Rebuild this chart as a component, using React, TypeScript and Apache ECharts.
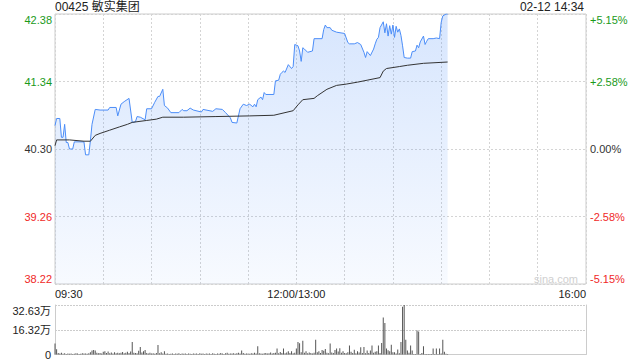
import React, { useEffect, useRef } from 'react';
import * as echarts from 'echarts';

const stockTitle = '00425 敏实集团';
const stampText = '02-12 14:34';
const watermark = 'sina.com';
const priceBase = 38.22;
const priceTicks = ['38.22', '39.26', '40.30', '41.34', '42.38'];
const pctTicks = ['-5.15%', '-2.58%', '0.00%', '+2.58%', '+5.15%'];
const timeTickMinutes = [0, 150, 330];
const timeTickLabels = ['09:30', '12:00/13:00', '16:00'];
const volTicks = ['0', '16.32万', '32.63万'];

// minutes after 09:30 (trading minutes, lunch removed) and last price
const priceMinutes = [
  0, 1, 3, 4, 5, 6, 7, 8, 9, 11, 12, 18, 19, 21, 22, 23, 25, 28, 33, 34,
  38, 39, 41, 43, 46, 48, 50, 51, 53, 56, 57, 60, 62, 64, 65, 67, 68, 70, 72, 77,
  79, 80, 82, 84, 86, 91, 92, 98, 100, 104, 106, 109, 110, 113, 115, 117, 119, 121, 123, 124,
  125, 126, 128, 129, 130, 131, 136, 137, 139, 140, 141, 142, 143, 145, 147, 148, 149, 151, 152, 153,
  154, 155, 157, 160, 161, 166, 167, 168, 169, 171, 172, 175, 180, 182, 183, 186, 188, 190, 192, 193,
  194, 196, 198, 199, 200, 201, 202, 204, 205, 206, 207, 208, 209, 210, 211, 212, 213, 214, 215, 216,
  217, 219, 221, 222, 224, 225, 226, 227, 229, 230, 231, 232, 235, 237, 239, 240, 241, 243, 244,
];
const prices = [
  40.66, 40.77, 40.77, 40.48, 40.48, 40.68, 40.40, 40.40, 40.30, 40.30, 40.41, 40.41, 40.21, 40.21, 40.43, 40.68, 40.91, 40.90, 40.90, 40.94,
  40.94, 40.81, 40.99, 41.03, 41.08, 40.71, 40.72, 40.80, 40.79, 40.75, 40.92, 40.92, 41.02, 41.11, 41.11, 41.22, 40.97, 40.93, 40.86, 40.86,
  40.91, 40.89, 40.89, 40.93, 40.90, 40.87, 40.91, 40.88, 40.92, 40.91, 40.86, 40.78, 40.71, 40.70, 40.92, 40.99, 40.97, 40.99, 40.95, 40.99,
  40.95, 41.06, 41.10, 41.06, 41.17, 41.14, 41.14, 41.35, 41.36, 41.45, 41.48, 41.50, 41.48, 41.60, 41.54, 41.57, 41.91, 41.89, 41.81, 41.65,
  41.86, 41.84, 41.79, 41.81, 42.00, 42.00, 42.14, 42.21, 42.17, 42.17, 42.13, 42.10, 42.08, 41.94, 41.92, 41.92, 41.94, 41.91, 41.79, 41.71,
  41.80, 41.74, 41.84, 41.92, 41.99, 42.02, 42.17, 42.26, 42.09, 42.23, 42.04, 42.20, 42.07, 42.21, 42.02, 42.19, 42.10, 42.15, 42.05, 41.89,
  41.71, 41.70, 41.70, 41.80, 41.81, 41.90, 41.86, 41.95, 42.04, 41.91, 41.96, 42.00, 42.00, 42.01, 42.00, 42.25, 42.35, 42.38, 42.38,
];

const avgMinutes = [0, 1, 9, 18, 22, 25, 28, 34, 40, 45, 48, 57, 63, 67, 80, 100, 121, 136, 148, 151, 154, 161, 163, 169, 175, 181, 188, 194, 202, 204, 206, 214, 219, 229, 244];
const avgPrices = [40.35, 40.44, 40.44, 40.42, 40.42, 40.51, 40.54, 40.59, 40.64, 40.68, 40.71, 40.74, 40.76, 40.79, 40.79, 40.80, 40.81, 40.82, 40.89, 40.98, 41.06, 41.08, 41.12, 41.22, 41.28, 41.30, 41.33, 41.36, 41.40, 41.50, 41.54, 41.57, 41.59, 41.62, 41.64];

// volume per minute from 09:30, in 万股
const volumes = [
  7.2, 3.4, 1.0, 0.6, 1.2, 0.5, 0.8, 0.4, 0.6, 0.5,
  0.7, 0.4, 0.5, 0.9, 0.6, 0.4, 0.5, 0.8, 0.6, 0.7,
  0.5, 0.9, 1.5, 2.6, 2.9, 2.7, 1.2, 0.8, 1.0, 0.6,
  1.8, 2.2, 1.0, 2.0, 0.9, 1.4, 0.7, 1.5, 0.8, 1.2,
  0.9, 1.1, 1.6, 0.8, 1.2, 1.8, 1.0, 2.0, 8.3, 1.2,
  1.0, 0.8, 2.5, 5.0, 1.4, 2.2, 3.0, 1.0, 0.7, 1.1,
  0.6, 0.9, 0.5, 1.0, 6.3, 0.8, 1.5, 0.6, 2.2, 0.5,
  0.6, 0.4, 0.5, 0.7, 0.4, 0.6, 0.5, 0.8, 0.4, 0.6,
  0.5, 0.7, 0.4, 0.6, 0.5, 0.4, 0.7, 0.5, 0.6, 0.4,
  0.8, 0.5, 0.6, 0.4, 0.7, 0.5, 0.6, 0.4, 0.9, 0.5,
  0.4, 0.7, 0.5, 1.0, 0.6, 0.4, 0.8, 1.2, 0.5, 0.7,
  0.6, 0.9, 0.5, 0.8, 1.2, 0.6, 2.7, 1.0, 0.5, 0.7,
  0.6, 0.5, 0.8, 0.6, 1.1, 0.7, 5.4, 0.9, 0.6, 0.5,
  0.8, 1.0, 0.6, 0.9, 1.4, 0.7, 1.0, 1.2, 4.0, 0.8,
  1.6, 1.0, 4.0, 0.9, 1.3, 2.2, 1.0, 2.2, 0.8, 1.2,
  4.0, 8.3, 7.4, 1.5, 9.0, 1.2, 2.2, 0.8, 1.4, 1.0,
  0.7, 1.2, 9.7, 1.5, 2.2, 1.0, 3.0, 2.5, 3.6, 1.2,
  0.9, 7.2, 1.4, 1.0, 3.0, 4.0, 2.0, 4.2, 1.2, 2.2,
  1.0, 0.8, 1.5, 6.0, 1.8, 1.0, 3.2, 0.8, 2.2, 1.4,
  4.8, 1.0, 5.0, 0.8, 2.6, 1.0, 2.6, 5.9, 1.2, 1.8,
  2.2, 5.9, 1.0, 7.6, 24.4, 20.7, 4.0, 2.8, 2.2, 6.5,
  1.5, 1.5, 0.6, 3.3, 0.8, 8.3, 31.5, 32.63, 9.8, 2.6,
  1.1, 5.9, 2.6, 0.4, 0.4, 15.9, 15.2, 0.4, 1.0, 5.5,
  0.4, 0.4, 0.4, 0.4, 0.4, 3.9, 0.4, 3.9, 0.4, 3.9,
  0.6, 9.8, 1.8, 0.5, 0.3,
];

const FONT = '"Liberation Sans", Arial, "Noto Sans CJK SC", sans-serif';
const UP = '#1a9a1a';
const DOWN = '#f02828';
const FLAT = '#333333';

function tickColor(_v: number, i: number) {
  return i < 2 ? DOWN : i === 2 ? FLAT : UP;
}

export default function App() {
  const ref = useRef<HTMLDivElement>(null);
  useEffect(() => {
    document.body.style.margin = '0';
    if (!ref.current) return;
    const chart = echarts.init(ref.current, null, { renderer: 'svg' });
    const toY = (p: number) => (p - priceBase) * 100;
    const priceData = priceMinutes.map((m, i) => [m, toY(prices[i])]);
    const avgData = avgMinutes.map((m, i) => [m, toY(avgPrices[i])]);
    const volData = volumes.map((v, i) => [i, v * 10000]);
    const dotted = { color: '#d4d4d4', type: [2, 2] as any, width: 1 };

    chart.setOption({
      animation: false,
      textStyle: { fontFamily: FONT },
      title: [
        { text: stockTitle, left: 55, top: 1, padding: 0, textStyle: { fontSize: 12, fontWeight: 'normal', color: '#222', fontFamily: FONT } },
        { text: stampText, right: 56, top: 1, padding: 0, textStyle: { fontSize: 12, fontWeight: 'normal', color: '#222', fontFamily: FONT } },
      ],
      grid: [
        { left: 55, right: 54, top: 14, height: 270, show: true, borderColor: '#cccccc', borderWidth: 1, backgroundColor: 'transparent' },
        { left: 55, right: 54, top: 305, height: 51 },
      ],
      xAxis: [
        {
          type: 'value', gridIndex: 0, min: 0, max: 330, interval: 30,
          axisLine: { show: false }, axisTick: { show: false },
          splitLine: { show: true, lineStyle: dotted },
          axisLabel: {
            margin: 4, fontSize: 11, color: '#222', fontFamily: FONT,
            alignMinLabel: 'left', alignMaxLabel: 'right',
            formatter: (v: number) => {
              const k = timeTickMinutes.indexOf(v);
              return k >= 0 ? timeTickLabels[k] : '';
            },
          },
        },
        {
          type: 'value', gridIndex: 1, min: 0, max: 330, interval: 30,
          axisLine: { show: true, lineStyle: { color: '#cccccc' } }, axisTick: { show: false },
          splitLine: { show: false }, axisLabel: { show: false },
        },
      ],
      yAxis: [
        {
          type: 'value', gridIndex: 0, min: 0, max: 416, interval: 104,
          axisLine: { show: false }, axisTick: { show: false },
          splitLine: { show: true, lineStyle: dotted },
          axisLabel: {
            margin: 3, fontSize: 11, fontFamily: FONT, color: tickColor,
            verticalAlignMinLabel: 'bottom', verticalAlignMaxLabel: 'top',
            formatter: (_v: number, i: number) => priceTicks[i],
          },
        },
        {
          type: 'value', gridIndex: 0, position: 'right', min: 0, max: 416, interval: 104,
          axisLine: { show: false }, axisTick: { show: false }, splitLine: { show: false },
          axisLabel: {
            margin: 4, fontSize: 11, fontFamily: FONT, color: tickColor,
            verticalAlignMinLabel: 'bottom', verticalAlignMaxLabel: 'top',
            formatter: (_v: number, i: number) => pctTicks[i],
          },
        },
        {
          type: 'value', gridIndex: 1, min: 0, max: 326300, interval: 163150,
          axisLine: { show: true, lineStyle: { color: '#cccccc' } }, axisTick: { show: false },
          splitLine: { show: true, lineStyle: { color: '#cccccc', type: [2, 1] as any, width: 1 } },
          axisLabel: {
            margin: 4, fontSize: 11, fontFamily: FONT, color: '#222',
            verticalAlignMaxLabel: 'top',
            formatter: (_v: number, i: number) => volTicks[i],
          },
        },
        {
          type: 'value', gridIndex: 1, position: 'right', min: 0, max: 326300, interval: 163150,
          axisLine: { show: true, lineStyle: { color: '#cccccc' } }, axisTick: { show: false },
          splitLine: { show: false }, axisLabel: { show: false },
        },
      ],
      graphic: [
        { type: 'text', right: 62, top: 273, style: { text: watermark, fontSize: 11, fill: '#cfcfcf', fontFamily: FONT } },
      ],
      series: [
        {
          type: 'line', xAxisIndex: 0, yAxisIndex: 0, data: priceData, showSymbol: false, symbol: 'none',
          lineStyle: { color: '#4b8df8', width: 1 },
          areaStyle: {
            origin: 'start',
            color: new echarts.graphic.LinearGradient(0, 0, 0, 1, [
              { offset: 0, color: 'rgba(75,141,248,0.32)' },
              { offset: 1, color: 'rgba(75,141,248,0.06)' },
            ]),
          },
          z: 3,
        },
        {
          type: 'line', xAxisIndex: 0, yAxisIndex: 0, data: avgData, showSymbol: false, symbol: 'none',
          lineStyle: { color: '#333333', width: 1 }, z: 4,
        },
        {
          type: 'bar', xAxisIndex: 1, yAxisIndex: 2, data: volData, barWidth: 1,
          itemStyle: { color: '#555555' },
        },
      ],
    });
    return () => chart.dispose();
  }, []);
  return <div ref={ref} style={{ width: 640, height: 360 }} />;
}
